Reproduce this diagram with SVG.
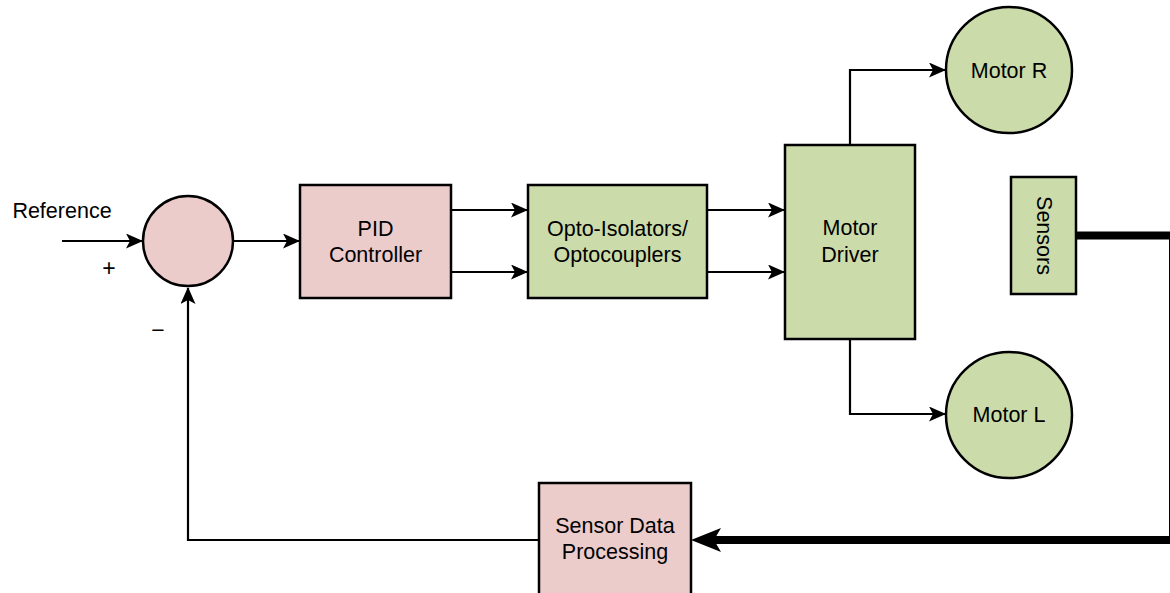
<svg xmlns="http://www.w3.org/2000/svg" width="1170" height="593" viewBox="0 0 1170 593">
<defs>
<style>
.pink{fill:#ECCCCB;stroke:#000;stroke-width:2.5}
.green{fill:#CCDBAA;stroke:#000;stroke-width:2.5}
.t{font-family:"Liberation Sans",Arial,sans-serif;font-size:21.5px;fill:#000;text-anchor:middle}
.c{fill:none;stroke:#000;stroke-width:2.2}
.thick{fill:none;stroke:#000;stroke-width:8}
</style>
<marker id="ah" markerWidth="17" markerHeight="15" refX="16" refY="7.5" orient="auto" markerUnits="userSpaceOnUse">
<path d="M0,0 L17,7.5 L0,15 L4,7.5 Z" fill="#000"/>
</marker>
</defs>
<rect width="1170" height="593" fill="#fff"/>
<g id="connectors">
<path class="c" d="M62,241 H142" marker-end="url(#ah)"/>
<path class="c" d="M234,241 H299" marker-end="url(#ah)"/>
<path class="c" d="M451,210 H527" marker-end="url(#ah)"/>
<path class="c" d="M451,272 H527" marker-end="url(#ah)"/>
<path class="c" d="M707,210 H784" marker-end="url(#ah)"/>
<path class="c" d="M707,272 H784" marker-end="url(#ah)"/>
<path class="c" d="M850,145 V70 H945" marker-end="url(#ah)"/>
<path class="c" d="M850,339 V414 H945" marker-end="url(#ah)"/>
<path class="c" d="M539,540 H188 V288" marker-end="url(#ah)"/>
<path class="thick" d="M1075,235.5 H1173 V540 H712"/>
<path d="M721,528 L691,540 L721,552 L714,540 Z" fill="#000"/>
<circle cx="1075" cy="235.5" r="4" fill="#000"/>
</g>
<g id="sum">
<circle class="pink" cx="188" cy="241" r="45"/>
</g>
<g id="labels">
<text class="t" x="62" y="218">Reference</text>
<text class="t" x="109" y="276" style="font-size:23px">+</text>
<text class="t" x="158" y="338" style="font-size:23px">−</text>
</g>
<g id="pid">
<rect class="pink" x="300" y="185" width="151" height="113"/>
<text class="t" x="375.5" y="236">PID</text>
<text class="t" x="375.5" y="262">Controller</text>
</g>
<g id="opto">
<rect class="green" x="528" y="185" width="179" height="113"/>
<text class="t" x="617.5" y="236">Opto-Isolators/</text>
<text class="t" x="617.5" y="262">Optocouplers</text>
</g>
<g id="driver">
<rect class="green" x="785" y="145" width="130" height="194"/>
<text class="t" x="850" y="235">Motor</text>
<text class="t" x="850" y="262">Driver</text>
</g>
<g id="motorR">
<circle class="green" cx="1009" cy="70" r="63"/>
<text class="t" x="1009" y="78">Motor R</text>
</g>
<g id="motorL">
<circle class="green" cx="1009" cy="415" r="63"/>
<text class="t" x="1009" y="422">Motor L</text>
</g>
<g id="sensors">
<rect class="green" x="1011" y="177" width="65" height="117"/>
<text class="t" transform="translate(1044,235.5) rotate(90)" x="0" y="7.5">Sensors</text>
</g>
<g id="sdp">
<rect class="pink" x="539" y="483" width="152" height="130"/>
<text class="t" x="615" y="533">Sensor Data</text>
<text class="t" x="615" y="559">Processing</text>
</g>
</svg>
